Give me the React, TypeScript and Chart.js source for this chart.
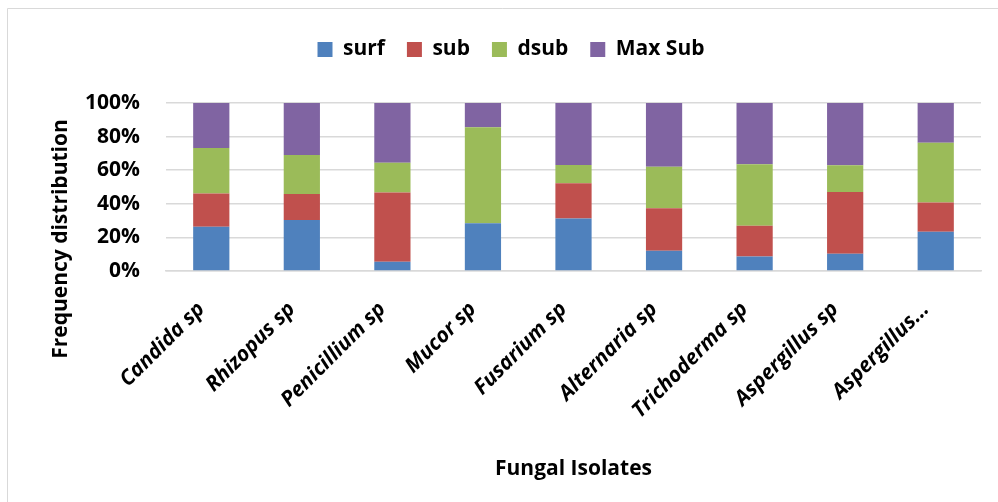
import { useEffect, useRef } from "react";
import { Chart, registerables } from "chart.js";

Chart.register(...registerables);

// Fungal isolates along the category axis
const isolates = [
  "Candida sp",
  "Rhizopus sp",
  "Penicillium sp",
  "Mucor sp",
  "Fusarium sp",
  "Alternaria sp",
  "Trichoderma sp",
  "Aspergillus sp",
  "Aspergillus...",
];

const seriesNames = ["surf", "sub", "dsub", "Max Sub"];

// Percentage share of each fermentation mode per isolate
const surf = [26.3, 30.4, 5.5, 28.4, 31.2, 12.0, 8.7, 10.3, 23.3];
const sub = [19.9, 15.4, 41.2, 0, 21.1, 25.3, 18.2, 36.7, 17.5];
const dsub = [27.0, 23.3, 17.8, 57.2, 10.8, 24.8, 36.7, 16.0, 35.5];
const maxSub = [26.8, 30.9, 35.5, 14.4, 36.9, 37.9, 36.4, 37.0, 23.7];

const seriesColors = ["#4F81BD", "#C0504D", "#9BBB59", "#8064A2"];

const yTickValues = [0, 20, 40, 60, 80, 100];

const FONT = "'Open Sans', sans-serif";
const GRID = "#d9d9d9";

// light outline of the chart frame
const framePlugin = {
  id: "frame",
  beforeDraw(chart: any) {
    const { ctx, width, height } = chart;
    ctx.save();
    ctx.fillStyle = "#ffffff";
    ctx.fillRect(0, 0, width, height);
    ctx.strokeStyle = GRID;
    ctx.lineWidth = 1;
    ctx.beginPath();
    ctx.moveTo(7.5, height);
    ctx.lineTo(7.5, 8.5);
    ctx.lineTo(width, 8.5);
    ctx.stroke();
    ctx.restore();
  },
};

// vertical axis title, centred on the plot plus its labels
const yTitlePlugin = {
  id: "yTitle",
  afterDraw(chart: any) {
    const { ctx } = chart;
    ctx.save();
    ctx.translate(67, 239);
    ctx.rotate(-Math.PI / 2);
    ctx.font = `bold 21px ${FONT}`;
    ctx.fillStyle = "#000";
    ctx.textAlign = "center";
    ctx.textBaseline = "alphabetic";
    ctx.fillText("Frequency distribution", 0, 0);
    ctx.restore();
  },
};

// leave room between the legend and the plot
const legendSpacePlugin = {
  id: "legendSpace",
  beforeInit(chart: any) {
    const legend = chart.legend;
    if (!legend) return;
    const fit = legend.fit;
    legend.fit = function () {
      fit.call(this);
      this.height = 86;
    };
  },
};

export default function App() {
  const canvasRef = useRef<HTMLCanvasElement | null>(null);

  useEffect(() => {
    if (!canvasRef.current) return;
    const values = [surf, sub, dsub, maxSub];
    const chart = new Chart(canvasRef.current, {
      type: "bar",
      data: {
        labels: isolates,
        datasets: seriesNames.map((name, i) => ({
          label: name,
          data: values[i],
          backgroundColor: seriesColors[i],
          borderWidth: 0,
          barPercentage: 0.4,
          categoryPercentage: 1,
        })),
      },
      options: {
        responsive: false,
        animation: false,
        devicePixelRatio: 1,
        layout: { padding: { top: 17, left: 41, right: 17, bottom: 0 } },
        plugins: {
          legend: {
            position: "top",
            align: "center",
            labels: {
              boxWidth: 15,
              boxHeight: 15,
              padding: 22,
              color: "#000",
              font: { family: FONT, size: 21, weight: "bold" },
            },
          },
          tooltip: { enabled: false },
        },
        scales: {
          x: {
            stacked: true,
            grid: { display: false },
            border: { display: true, color: GRID, width: 1.5 },
            ticks: {
              autoSkip: false,
              minRotation: 45,
              maxRotation: 45,
              padding: 18,
              labelOffset: -10,
              color: "#000",
              font: { family: FONT, size: 21, weight: "bold", style: "italic" },
            },
            title: {
              display: true,
              text: "Fungal Isolates",
              color: "#000",
              font: { family: FONT, size: 21, weight: "bold" },
              padding: { top: 0, bottom: 20 },
            },
            afterFit(scale: any) {
              scale.height = 231;
            },
          },
          y: {
            stacked: true,
            min: 0,
            max: 100,
            afterBuildTicks(scale: any) {
              scale.ticks = yTickValues.map((v) => ({ value: v }));
            },
            grid: { color: GRID, lineWidth: 1.5, drawTicks: false },
            border: { display: false },
            ticks: {
              padding: 26,
              color: "#000",
              font: { family: FONT, size: 21, weight: "bold" },
              callback: (v: any) => `${v}%`,
            },
            afterFit(scale: any) {
              scale.width = 125;
            },
          },
        },
      },
      plugins: [framePlugin, yTitlePlugin, legendSpacePlugin],
    } as any);
    return () => chart.destroy();
  }, []);

  return (
    <div style={{ position: "fixed", left: 0, top: 0, width: 998, height: 502, overflow: "hidden" }}>
      <canvas ref={canvasRef} width={998} height={502} style={{ display: "block", width: 998, height: 502 }} />
    </div>
  );
}
